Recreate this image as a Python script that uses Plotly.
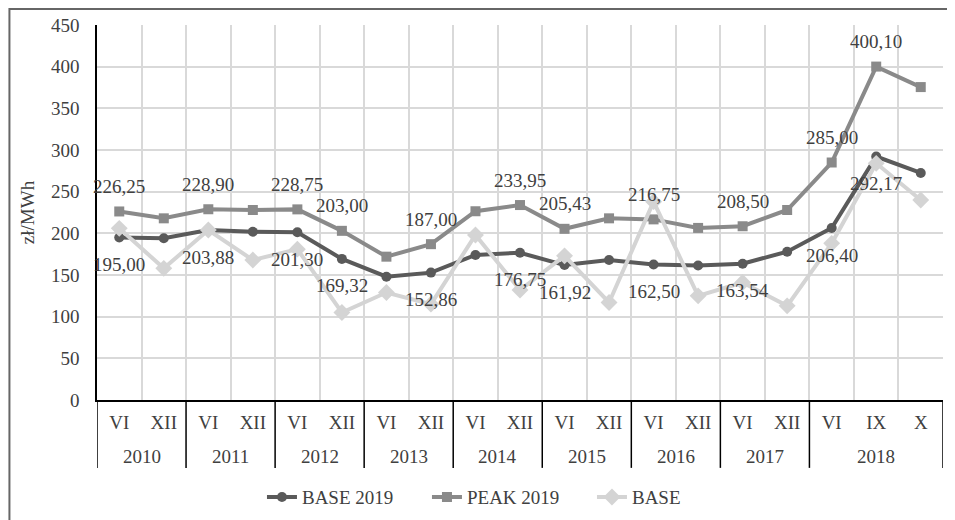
import plotly.graph_objects as go

years = ['2010', '2010', '2011', '2011', '2012', '2012', '2013', '2013', '2014', '2014',
         '2015', '2015', '2016', '2016', '2017', '2017', '2018', '2018', '2018']
months = ['VI', 'XII', 'VI', 'XII', 'VI', 'XII', 'VI', 'XII', 'VI', 'XII',
          'VI', 'XII', 'VI', 'XII', 'VI', 'XII', 'VI', 'IX', 'X']

base_2019 = [195.00, 194.0, 203.88, 201.8, 201.30, 169.32, 148.0, 152.86, 174.0, 176.75,
             161.92, 168.0, 162.50, 161.5, 163.54, 178.0, 206.40, 292.17, 272.5]
peak_2019 = [226.25, 218.0, 228.90, 228.0, 228.75, 203.00, 172.0, 187.00, 226.5, 233.95,
             205.43, 218.0, 216.75, 206.5, 208.50, 228.0, 285.00, 400.10, 375.5]
base = [206.0, 158.0, 204.0, 168.0, 181.0, 105.0, 129.0, 115.0, 198.0, 132.0,
        173.0, 117.0, 238.0, 125.0, 141.0, 113.0, 188.0, 284.0, 240.0]

label_idx = [0, 2, 4, 5, 7, 9, 10, 12, 14, 16, 17]

FONT = '"Liberation Serif", "Times New Roman", serif'
TXT = "#404040"

idx = list(range(len(months)))

fig = go.Figure()
series = [
    ("BASE 2019", base_2019, "#5a5a5a", "circle", 10),
    ("PEAK 2019", peak_2019, "#8a8a8a", "square", 10),
    ("BASE", base, "#d4d4d4", "diamond", 13),
]
for name, vals, col, sym, ms in series:
    fig.add_trace(go.Scatter(
        x=idx, y=vals, name=name, mode="lines+markers",
        line=dict(color=col, width=4),
        marker=dict(symbol=sym, size=ms, color=col),
        hoverinfo="skip",
    ))

def fmt(v):
    return f"{v:.2f}".replace(".", ",")

lab_font = dict(family=FONT, size=19, color=TXT)
annotations = []
for i in label_idx:
    annotations.append(dict(x=i, y=base_2019[i], xref="x", yref="y", text=fmt(base_2019[i]),
                            showarrow=False, yshift=-27, xanchor="center", yanchor="middle",
                            font=lab_font))
    annotations.append(dict(x=i, y=peak_2019[i], xref="x", yref="y", text=fmt(peak_2019[i]),
                            showarrow=False, yshift=25, xanchor="center", yanchor="middle",
                            font=lab_font))

# year groups: labels and dividers derived from the years list
groups = []
for i, yv in enumerate(years):
    if groups and groups[-1][0] == yv:
        groups[-1][2] = i
    else:
        groups.append([yv, i, i])

shapes = []
for yv, a, b in groups:
    annotations.append(dict(x=(a + b) / 2, y=-0.152, xref="x", yref="paper", text=yv,
                            showarrow=False, xanchor="center", yanchor="middle", font=lab_font))
    shapes.append(dict(type="line", xref="x", yref="paper", x0=a - 0.5, x1=a - 0.5,
                       y0=0, y1=-0.181, line=dict(color="black", width=1.5)))
shapes.append(dict(type="line", xref="x", yref="paper", x0=groups[-1][2] + 0.5,
                   x1=groups[-1][2] + 0.5, y0=0, y1=-0.181, line=dict(color="black", width=1.5)))
# outer chart frame (left and top edges visible)
shapes.append(dict(type="rect", xref="paper", yref="paper",
                   x0=-0.1035, x1=1.2, y0=-0.6, y1=1.0427,
                   line=dict(color="#666666", width=2), fillcolor="rgba(0,0,0,0)", layer="below"))

fig.update_layout(
    width=947, height=512,
    margin=dict(l=89, r=12, t=17, b=120, autoexpand=False),
    paper_bgcolor="white", plot_bgcolor="white",
    font=dict(family=FONT, size=19, color=TXT),
    showlegend=True,
    legend=dict(orientation="h", x=0.195, xanchor="left", y=-0.259, yanchor="middle",
                font=lab_font, itemclick=False, entrywidth=120, entrywidthmode="pixels"),
    annotations=annotations,
    shapes=shapes,
)
fig.update_xaxes(
    range=[-0.5, len(months) - 0.5], tickmode="array", tickvals=idx, ticktext=months,
    showgrid=False, automargin=False,
    minor=dict(tick0=-0.5, dtick=1, showgrid=True, gridcolor="#d9d9d9", gridwidth=2, ticks=""),
    showline=True, linecolor="black", linewidth=1.5, ticks="",
    ticklabelstandoff=4,
    tickfont=lab_font, zeroline=False,
)
fig.update_yaxes(
    range=[0, 450], dtick=50, showgrid=True, gridcolor="#d9d9d9", gridwidth=2,
    showline=True, linecolor="black", linewidth=1.5, ticks="", zeroline=False,
    ticklabelstandoff=12, automargin=False,
    title=dict(text="zł/MWh", font=lab_font, standoff=11),
    tickfont=lab_font,
)

fig.write_html("out.html")
